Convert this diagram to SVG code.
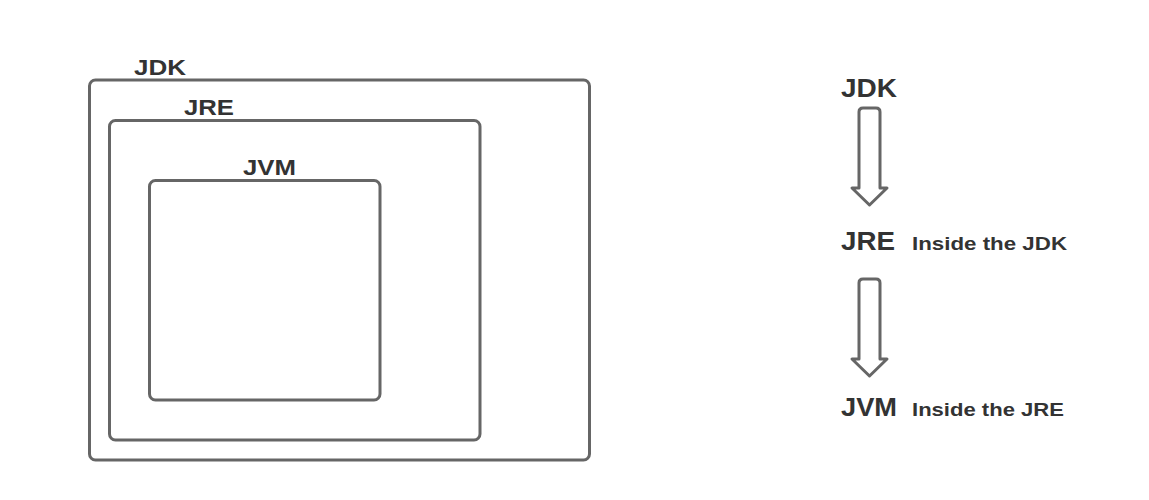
<svg xmlns="http://www.w3.org/2000/svg" width="1149" height="500" viewBox="0 0 1149 500">
<style>
.box{fill:none;stroke:#666;stroke-width:3}
.arrow{fill:none;stroke:#666;stroke-width:3;stroke-linejoin:round}
.lbl{font-family:"Liberation Sans",Arial,sans-serif;font-weight:bold;fill:#333}
</style>
<rect width="1149" height="500" fill="#fff"/>
<g id="jdk-box">
<rect class="box" x="89.5" y="80" width="500" height="380" rx="6"/>
<text class="lbl" x="134" y="75" font-size="22" textLength="52" lengthAdjust="spacingAndGlyphs">JDK</text>
</g>
<g id="jre-box">
<rect class="box" x="109.5" y="120.5" width="370.5" height="319.5" rx="6"/>
<text class="lbl" x="184" y="115" font-size="22" textLength="50" lengthAdjust="spacingAndGlyphs">JRE</text>
</g>
<g id="jvm-box">
<rect class="box" x="149.5" y="180.5" width="230.5" height="219.5" rx="6"/>
<text class="lbl" x="243" y="175" font-size="22" textLength="53" lengthAdjust="spacingAndGlyphs">JVM</text>
</g>
<g id="jdk-label">
<text class="lbl" x="841" y="97" font-size="25" textLength="56" lengthAdjust="spacingAndGlyphs">JDK</text>
</g>
<g id="jre-label">
<text class="lbl" x="841" y="250" font-size="25" textLength="54" lengthAdjust="spacingAndGlyphs">JRE</text>
<text class="lbl" x="912" y="250" font-size="18" textLength="155" lengthAdjust="spacingAndGlyphs">Inside the JDK</text>
</g>
<g id="jvm-label">
<text class="lbl" x="841" y="416" font-size="25" textLength="56" lengthAdjust="spacingAndGlyphs">JVM</text>
<text class="lbl" x="912" y="416" font-size="18" textLength="152" lengthAdjust="spacingAndGlyphs">Inside the JRE</text>
</g>
<g id="connectors">
<path class="arrow" d="M859 188 L859 112 Q859 108 863 108 L876 108 Q880 108 880 112 L880 188 L887 188 L869.5 205 L852 188 Z"/>
<path class="arrow" d="M859 359 L859 283 Q859 279 863 279 L876 279 Q880 279 880 283 L880 359 L887 359 L869.5 376 L852 359 Z"/>
</g>
</svg>
